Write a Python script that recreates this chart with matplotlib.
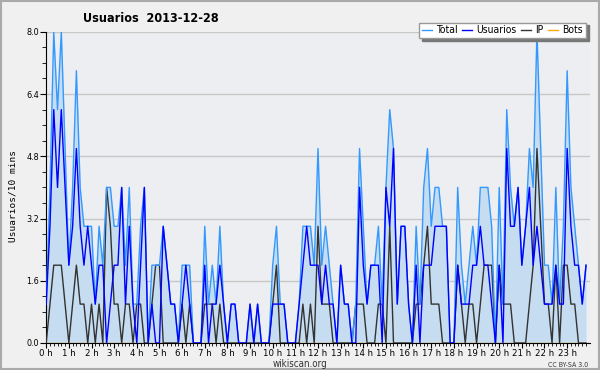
import matplotlib
matplotlib.use("Agg")
import matplotlib.pyplot as plt
from matplotlib.patches import Rectangle
import numpy as np

plt.rcParams["font.family"] = ["DejaVu Sans"]
plt.rcParams["font.stretch"] = "condensed"

# values every 10 minutes, 144 slots (0h00 .. 23h50)
usuarios = [1, 3, 6, 4, 6, 4, 2, 3, 5, 3, 2, 3, 2, 1, 2, 2, 0, 1, 2, 2, 4, 1, 3, 1,
            0, 2, 4, 0, 1, 0, 0, 3, 2, 1, 1, 0, 1, 2, 1, 0, 0, 0, 2, 0, 1, 1, 2, 1,
            0, 1, 1, 0, 0, 0, 1, 0, 1, 0, 0, 0, 1, 1, 1, 1, 0, 0, 0, 1, 2, 3, 2, 2,
            2, 1, 2, 1, 1, 0, 2, 1, 1, 0, 0, 4, 2, 1, 2, 2, 2, 0, 4, 3, 5, 1, 3, 3,
            1, 0, 2, 0, 2, 2, 2, 3, 3, 3, 3, 0, 0, 2, 1, 1, 1, 2, 2, 3, 2, 2, 1, 0,
            2, 0, 5, 3, 3, 4, 2, 3, 4, 2, 3, 2, 1, 1, 1, 2, 1, 1, 5, 3, 2, 2, 1, 2]
ip = [0, 1, 2, 2, 2, 1, 0, 1, 2, 1, 1, 0, 1, 0, 1, 0, 4, 3, 1, 1, 0, 1, 1, 0,
      1, 1, 0, 0, 1, 2, 2, 0, 0, 0, 0, 0, 1, 0, 1, 0, 0, 0, 1, 1, 1, 0, 1, 0,
      0, 0, 0, 0, 0, 0, 0, 0, 0, 0, 0, 0, 1, 2, 0, 0, 0, 0, 0, 0, 1, 0, 1, 0,
      3, 1, 1, 1, 0, 0, 0, 0, 0, 0, 1, 1, 1, 0, 0, 0, 1, 1, 0, 3, 0, 0, 0, 0,
      0, 0, 1, 1, 2, 3, 1, 1, 1, 0, 0, 0, 0, 2, 1, 0, 1, 1, 0, 1, 2, 2, 2, 0,
      2, 1, 1, 1, 0, 0, 0, 0, 1, 2, 5, 3, 1, 1, 0, 2, 0, 2, 2, 1, 1, 0, 0, 0]
total = [1, 4, 8, 6, 8, 5, 2, 4, 7, 4, 3, 3, 3, 1, 3, 2, 4, 4, 3, 3, 4, 2, 4, 1,
         1, 3, 4, 0, 2, 2, 2, 3, 2, 1, 1, 0, 2, 2, 2, 0, 0, 0, 3, 1, 2, 1, 3, 1,
         0, 1, 1, 0, 0, 0, 1, 0, 1, 0, 0, 0, 2, 3, 1, 1, 0, 0, 0, 1, 3, 3, 3, 2,
         5, 2, 3, 2, 1, 0, 2, 1, 1, 0, 1, 5, 3, 1, 2, 2, 3, 1, 4, 6, 5, 1, 3, 3,
         1, 0, 3, 1, 4, 5, 3, 4, 4, 3, 3, 0, 0, 4, 2, 1, 2, 3, 2, 4, 4, 4, 3, 0,
         4, 1, 6, 4, 3, 4, 2, 3, 5, 4, 8, 5, 2, 2, 1, 4, 1, 3, 7, 4, 3, 2, 1, 2]
bots = [0] * 144

hours = np.arange(len(total)) / 6.0
hour_labels = ["%d h" % h for h in range(24)]

fig = plt.figure(figsize=(6, 3.7), dpi=100, facecolor="#f0f0f0")
ax = fig.add_axes([0.077, 0.073, 0.906, 0.841])
ax.set_facecolor("#eceef1")

ax.fill_between(hours, total, 0, color="#c6dcf0", lw=0)
ax.plot(hours, bots, color="#ffa500", lw=1, label="Bots", zorder=3)
ax.plot(hours, ip, color="#333333", lw=1, label="IP", zorder=4)
ax.plot(hours, total, color="#3399ff", lw=1, label="Total", zorder=5)
ax.plot(hours, usuarios, color="#0000ff", lw=1, label="Usuarios", zorder=6)

ax.set_xlim(0, 24)
ax.set_ylim(0, 8)
ax.set_yticks(np.arange(0, 8.1, 1.6))
ax.set_yticks(np.arange(0, 8.1, 0.4), minor=True)
ax.set_yticklabels(["%.1f" % v for v in np.arange(0, 8.1, 1.6)], fontsize=6.5)
ax.set_xticks(range(24))
ax.set_xticks(hours, minor=True)
ax.set_xticklabels(hour_labels, fontsize=6.8, ha="center")
ax.tick_params(axis="x", which="major", length=3.5, pad=0.5)
ax.tick_params(axis="x", which="minor", length=2.5)
ax.tick_params(axis="y", which="major", length=4, pad=1)
ax.tick_params(axis="y", which="minor", length=3)
ax.grid(axis="y", color="#c8c8c8", lw=1)
ax.set_axisbelow(True)
for s in ["top", "right"]:
    ax.spines[s].set_visible(False)

fig.text(0.021, 0.47, "Usuarios/10 mins", family="DejaVu Sans Mono", fontsize=6.8,
         rotation=90, ha="center", va="center")
fig.text(0.5, 0.016, "wikiscan.org", fontsize=7, ha="center", va="center",
         color="#333333")
fig.text(0.252, 0.951, "Usuarios  2013-12-28", fontsize=9, fontweight="bold",
         ha="center", va="center")
fig.text(0.98, 0.014, "CC BY-SA 3.0", fontsize=5, ha="right", va="center",
         color="#333333")

handles, labels = ax.get_legend_handles_labels()
order = [2, 3, 1, 0]
leg = fig.legend([handles[i] for i in order], [labels[i] for i in order],
                 loc="upper right", bbox_to_anchor=(0.985, 0.953), ncol=4,
                 fontsize=7.5, handlelength=1.0, handletextpad=0.4,
                 columnspacing=0.4, borderpad=0.25, fancybox=False,
                 shadow={"color": "#777777", "alpha": 1.0}, framealpha=1)
leg.get_frame().set_edgecolor("#999999")
leg.get_frame().set_facecolor("white")

fig.patches.append(Rectangle((0.0015, 0.002), 0.997, 0.995, transform=fig.transFigure,
                             fill=False, edgecolor="#aaaaaa", lw=1.5))

fig.savefig("out.png", dpi=100, facecolor=fig.get_facecolor())
